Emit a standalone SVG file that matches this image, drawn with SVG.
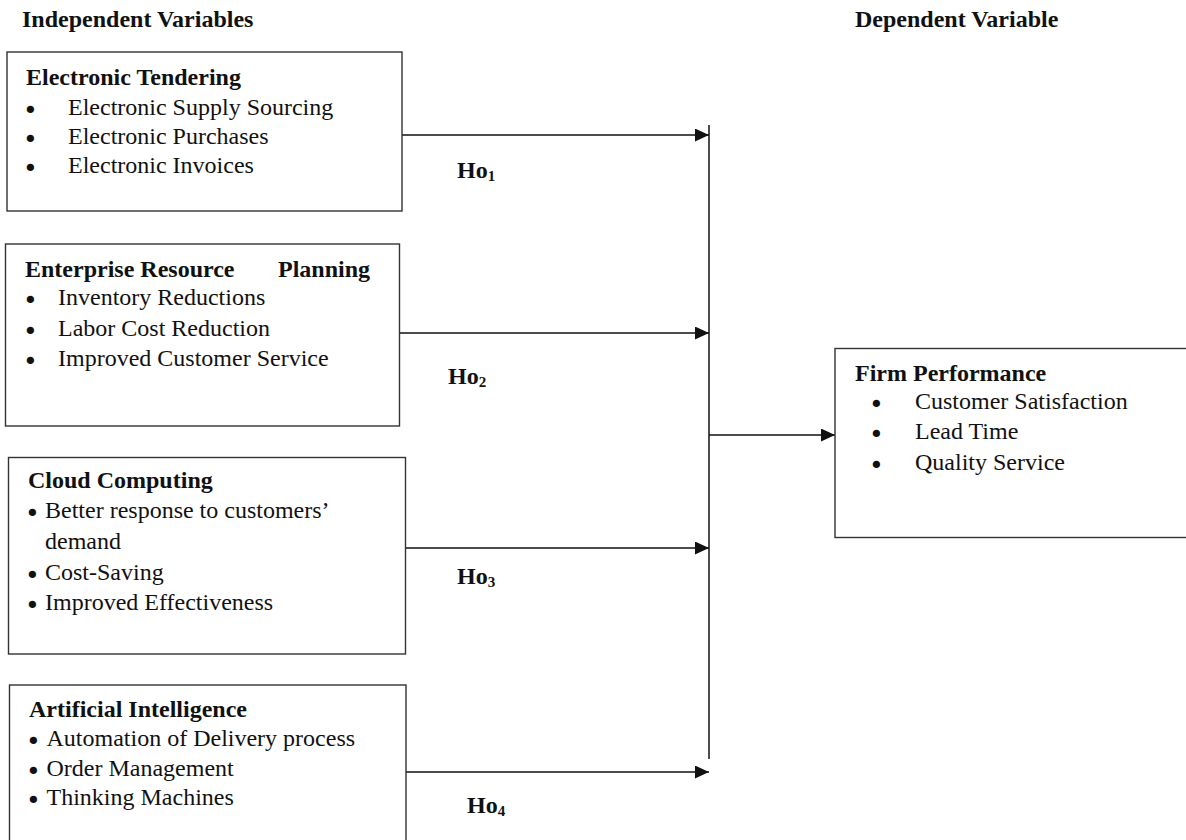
<svg xmlns="http://www.w3.org/2000/svg" width="1186" height="840" viewBox="0 0 1186 840">
<style>
text{font-family:"Liberation Serif","Times New Roman",serif;font-size:24px;fill:#111}
.b{font-weight:bold}
.bl{font-family:"DejaVu Sans",sans-serif;font-size:25px}
.box{fill:#fff;stroke:#333;stroke-width:1.4}
.con{stroke:#111;stroke-width:1.5;fill:none}
.sub{font-size:15px}
</style>
<defs>
<marker id="ah" markerUnits="userSpaceOnUse" markerWidth="14" markerHeight="13" refX="14" refY="6.5" orient="auto">
<path d="M0,0 L14,6.5 L0,13 z" fill="#111"/>
</marker>
</defs>
<rect width="1186" height="840" fill="#fff"/>
<g id="headers">
<text class="b" x="22" y="27">Independent Variables</text>
<text class="b" x="855" y="27">Dependent Variable</text>
</g>
<g id="connectors">
<line class="con" x1="709" y1="125" x2="709" y2="759"/>
<line class="con" x1="402" y1="135" x2="709" y2="135" marker-end="url(#ah)"/>
<line class="con" x1="400" y1="333" x2="709" y2="333" marker-end="url(#ah)"/>
<line class="con" x1="405" y1="548" x2="709" y2="548" marker-end="url(#ah)"/>
<line class="con" x1="406" y1="772" x2="709" y2="772" marker-end="url(#ah)"/>
<line class="con" x1="709" y1="435" x2="835" y2="435" marker-end="url(#ah)"/>
</g>
<g id="labels">
<text class="b" x="457" y="178">Ho<tspan class="sub" dy="3">1</tspan></text>
<text class="b" x="448" y="384">Ho<tspan class="sub" dy="3">2</tspan></text>
<text class="b" x="457" y="584">Ho<tspan class="sub" dy="3">3</tspan></text>
<text class="b" x="467" y="813">Ho<tspan class="sub" dy="3">4</tspan></text>
</g>
<g id="electronic-tendering">
<rect class="box" x="7" y="52" width="395" height="159"/>
<text class="b" x="26" y="85">Electronic Tendering</text>
<text x="23" y="115"><tspan class="bl" dy="4">•</tspan><tspan x="68" dy="-4">Electronic Supply Sourcing</tspan></text>
<text x="23" y="144"><tspan class="bl" dy="4">•</tspan><tspan x="68" dy="-4">Electronic Purchases</tspan></text>
<text x="23" y="173"><tspan class="bl" dy="4">•</tspan><tspan x="68" dy="-4">Electronic Invoices</tspan></text>
</g>
<g id="erp">
<rect class="box" x="5.5" y="244" width="394" height="182"/>
<text class="b" x="25" y="277">Enterprise Resource</text>
<text class="b" x="278" y="277">Planning</text>
<text x="23" y="305"><tspan class="bl" dy="4">•</tspan><tspan x="58" dy="-4">Inventory Reductions</tspan></text>
<text x="23" y="336"><tspan class="bl" dy="4">•</tspan><tspan x="58" dy="-4">Labor Cost Reduction</tspan></text>
<text x="23" y="366"><tspan class="bl" dy="4">•</tspan><tspan x="58" dy="-4">Improved Customer Service</tspan></text>
</g>
<g id="cloud-computing">
<rect class="box" x="8.5" y="457.5" width="397" height="196.5"/>
<text class="b" x="28" y="488">Cloud Computing</text>
<text x="25" y="518"><tspan class="bl" dy="4">•</tspan><tspan x="45" dy="-4">Better response to customers’</tspan></text>
<text x="45" y="549">demand</text>
<text x="25" y="580"><tspan class="bl" dy="4">•</tspan><tspan x="45" dy="-4">Cost-Saving</tspan></text>
<text x="25" y="610"><tspan class="bl" dy="4">•</tspan><tspan x="45" dy="-4">Improved Effectiveness</tspan></text>
</g>
<g id="artificial-intelligence">
<rect class="box" x="9.5" y="685" width="396.5" height="160"/>
<text class="b" x="29" y="717">Artificial Intelligence</text>
<text x="26" y="746"><tspan class="bl" dy="4">•</tspan><tspan x="46.5" dy="-4">Automation of Delivery process</tspan></text>
<text x="26" y="776"><tspan class="bl" dy="4">•</tspan><tspan x="46.5" dy="-4">Order Management</tspan></text>
<text x="26" y="805"><tspan class="bl" dy="4">•</tspan><tspan x="46.5" dy="-4">Thinking Machines</tspan></text>
</g>
<g id="firm-performance">
<rect class="box" x="835" y="348.5" width="360" height="189"/>
<text class="b" x="855" y="381">Firm Performance</text>
<text x="869" y="409"><tspan class="bl" dy="4">•</tspan><tspan x="915" dy="-4">Customer Satisfaction</tspan></text>
<text x="869" y="439"><tspan class="bl" dy="4">•</tspan><tspan x="915" dy="-4">Lead Time</tspan></text>
<text x="869" y="470"><tspan class="bl" dy="4">•</tspan><tspan x="915" dy="-4">Quality Service</tspan></text>
</g>
</svg>
